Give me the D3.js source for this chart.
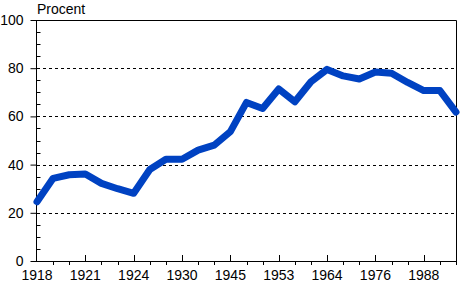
<html>
<head>
  <title>Procent</title>
  <script src="https://d3js.org/d3.v7.min.js"></script>
  <style>
    body { margin: 0; background: #fff; }
    text { font-family: "Liberation Sans", Arial, sans-serif; font-size: 14px; fill: #000; }
  </style>
</head>
<body>
<script>
  // election years (only every third one gets a label)
  var years = [1918, 1919, 1920, 1921, 1922, 1923, 1924, 1925, 1927, 1930, 1933, 1936,
               1945, 1947, 1950, 1953, 1956, 1960, 1964, 1968, 1972, 1976, 1980, 1984,
               1988, 1992, 1996];
  var shownYears = [1918, 1921, 1924, 1930, 1945, 1953, 1964, 1976, 1988];
  var percent = [24.6, 34.3, 35.8, 36.1, 32.2, 30.0, 28.1, 38.0, 42.2, 42.2, 46.0, 48.1,
                 53.7, 65.8, 63.3, 71.4, 66.1, 74.4, 79.5, 76.8, 75.5, 78.4, 77.9, 74.1,
                 70.7, 70.7, 61.8];
  var yTicks = [0, 20, 40, 60, 80, 100];
  var yMinor = d3.range(5, 100, 5).filter(function (d) { return d % 20 !== 0 });

  var W = 460, H = 284
  var pLeft = 37, pRight = 456, pTop = 20, pBottom = 261

  var svg = d3.select('body').append('svg')
      .attr('width', W)
      .attr('height', H)

  // Scales
  var x = d3.scalePoint().domain(years).range([pLeft, pRight])
  var y = d3.scaleLinear().domain([0, 100]).range([pBottom, pTop])

  // dashed grid
  svg.append('g')
    .selectAll('line')
    .data([20, 40, 60, 80])
    .enter().append('line')
      .attr('x1', pLeft).attr('x2', pRight)
      .attr('y1', function (d) { return Math.round(y(d)) + 0.5 })
      .attr('y2', function (d) { return Math.round(y(d)) + 0.5 })
      .attr('stroke', '#000')
      .attr('stroke-dasharray', '3,3')

  // frame: top + right
  svg.append('path')
      .attr('d', 'M' + pLeft + ',' + (pTop + 0.5) + 'H' + (pRight + 0.5) + 'V' + pBottom)
      .attr('fill', 'none')
      .attr('stroke', '#000')

  // Y axis: big ticks outside, small ticks inside
  var yAxis = d3.axisLeft(y).tickValues(yTicks).tickSize(6).tickPadding(7)
  var gy = svg.append('g')
      .attr('transform', 'translate(' + (pLeft - 0.5) + ',0)')
      .call(yAxis)
  gy.select('.domain').remove()
  gy.append('line')
      .attr('x1', 0).attr('x2', 0)
      .attr('y1', pTop).attr('y2', pBottom + 1)
      .attr('stroke', '#000')
  gy.selectAll('.tick text')
      .style('font-family', '"Liberation Sans", Arial, sans-serif')
      .style('font-size', '14px')
  gy.selectAll('.minor')
    .data(yMinor)
    .enter().append('line')
      .attr('class', 'minor')
      .attr('x1', 0).attr('x2', 4)
      .attr('y1', function (d) { return Math.round(y(d)) + 0.5 })
      .attr('y2', function (d) { return Math.round(y(d)) + 0.5 })
      .attr('stroke', '#000')

  // X axis: labelled ticks go up, the rest go down
  var gx = svg.append('g')
  gx.append('line')
      .attr('x1', pLeft - 6).attr('x2', pRight + 1)
      .attr('y1', pBottom + 0.5).attr('y2', pBottom + 0.5)
      .attr('stroke', '#000')
  gx.selectAll('.xt')
    .data(years.slice(1))
    .enter().append('line')
      .attr('class', 'xt')
      .attr('x1', function (d) { return Math.round(x(d)) + 0.5 })
      .attr('x2', function (d) { return Math.round(x(d)) + 0.5 })
      .attr('y1', function (d) { return shownYears.indexOf(d) >= 0 ? pBottom - 6 : pBottom + 1 })
      .attr('y2', function (d) { return shownYears.indexOf(d) >= 0 ? pBottom : pBottom + 4 })
      .attr('stroke', '#000')
  gx.selectAll('text')
    .data(shownYears)
    .enter().append('text')
      .attr('x', function (d) { return x(d) })
      .attr('y', 280)
      .attr('text-anchor', 'middle')
      .text(function (d) { return d })

  // Line
  var line = d3.line()
      .x(function (d, i) { return x(years[i]) })
      .y(function (d) { return y(d) })
  svg.append('path')
      .datum(percent)
      .attr('d', line)
      .attr('fill', 'none')
      .attr('stroke', '#0042c2')
      .attr('stroke-width', 7)
      .attr('stroke-linejoin', 'round')
      .attr('stroke-linecap', 'round')

  // axis title
  svg.append('text')
      .attr('x', 37)
      .attr('y', 14)
      .text('Procent')
</script>
</body>
</html>
